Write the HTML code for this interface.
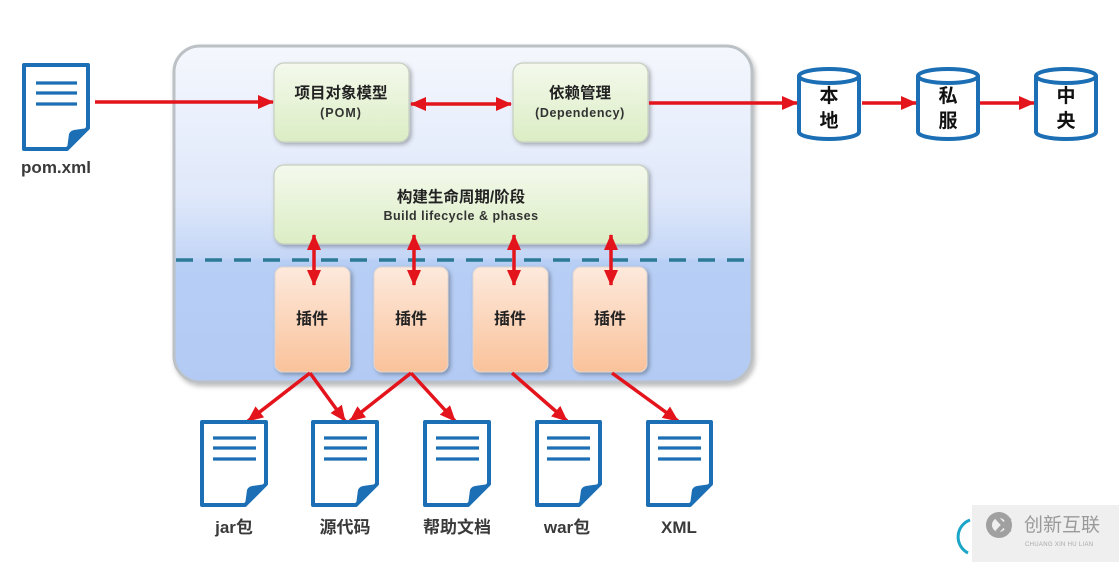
<!DOCTYPE html>
<html><head><meta charset="utf-8"><style>
html,body{margin:0;padding:0;background:#fff;}
svg{display:block;}
text{font-family:"Liberation Sans","Noto Sans CJK SC",sans-serif;}
</style></head><body>
<svg width="1119" height="562" viewBox="0 0 1119 562" xmlns="http://www.w3.org/2000/svg">
<defs>
<linearGradient id="cont" x1="0" y1="0" x2="0" y2="1">
<stop offset="0" stop-color="#f4f7fd"/>
<stop offset="0.45" stop-color="#dfe8fa"/>
<stop offset="0.63" stop-color="#c4d6f6"/>
<stop offset="0.64" stop-color="#b7cef5"/>
<stop offset="1" stop-color="#b3cbf4"/>
</linearGradient>
<linearGradient id="grn" x1="0" y1="0" x2="0" y2="1">
<stop offset="0" stop-color="#f4f9ec"/>
<stop offset="1" stop-color="#dbedc4"/>
</linearGradient>
<linearGradient id="org" x1="0" y1="0" x2="0" y2="1">
<stop offset="0" stop-color="#fde9dc"/>
<stop offset="1" stop-color="#f9c29a"/>
</linearGradient>
<filter id="sh" x="-10%" y="-10%" width="130%" height="130%">
<feDropShadow dx="2" dy="2" stdDeviation="2" flood-color="#000" flood-opacity="0.3"/>
</filter>
<filter id="sh2" x="-5%" y="-5%" width="115%" height="115%">
<feDropShadow dx="2" dy="3" stdDeviation="2.5" flood-color="#000" flood-opacity="0.25"/>
</filter>
<marker id="ah" markerUnits="userSpaceOnUse" markerWidth="16" markerHeight="14" refX="15" refY="7" orient="auto-start-reverse">
<path d="M0,0 L16,7 L0,14 z" fill="#e3141b"/>
</marker>
</defs>

<!-- container -->
<rect x="174" y="46" width="578" height="336" rx="26" fill="url(#cont)" stroke="#bcc1c6" stroke-width="3" filter="url(#sh2)"/>
<line x1="176" y1="260" x2="750" y2="260" stroke="#2d7a96" stroke-width="3.5" stroke-dasharray="17 12"/>

<!-- green boxes -->
<rect x="274" y="63" width="135" height="79" rx="10" fill="url(#grn)" stroke="#c6cec0" stroke-width="1.2" filter="url(#sh)"/>
<text x="341" y="98" text-anchor="middle" font-size="15.5" font-weight="bold" fill="#222">项目对象模型</text>
<text x="341" y="117" text-anchor="middle" font-size="12.5" font-weight="bold" fill="#333" letter-spacing="1">(POM)</text>

<rect x="513" y="63" width="135" height="79" rx="10" fill="url(#grn)" stroke="#c6cec0" stroke-width="1.2" filter="url(#sh)"/>
<text x="580" y="98" text-anchor="middle" font-size="15.5" font-weight="bold" fill="#222">依赖管理</text>
<text x="580" y="117" text-anchor="middle" font-size="12.5" font-weight="bold" fill="#333" letter-spacing="0.6">(Dependency)</text>

<rect x="274" y="165" width="374" height="79" rx="10" fill="url(#grn)" stroke="#c6cec0" stroke-width="1.2" filter="url(#sh)"/>
<text x="461" y="202" text-anchor="middle" font-size="15.5" font-weight="bold" fill="#222">构建生命周期/阶段</text>
<text x="461" y="220" text-anchor="middle" font-size="12.5" font-weight="bold" fill="#333" letter-spacing="0.5">Build lifecycle &amp; phases</text>

<!-- plugins -->
<g filter="url(#sh)">
<rect x="275" y="267" width="75" height="105" rx="8" fill="url(#org)" stroke="#e0d6d0" stroke-width="1"/>
<rect x="374" y="267" width="74" height="105" rx="8" fill="url(#org)" stroke="#e0d6d0" stroke-width="1"/>
<rect x="473" y="267" width="75" height="105" rx="8" fill="url(#org)" stroke="#e0d6d0" stroke-width="1"/>
<rect x="573" y="267" width="74" height="105" rx="8" fill="url(#org)" stroke="#e0d6d0" stroke-width="1"/>
</g>
<g font-size="16" font-weight="bold" fill="#222" text-anchor="middle">
<text x="312" y="324">插件</text>
<text x="411" y="324">插件</text>
<text x="510" y="324">插件</text>
<text x="610" y="324">插件</text>
</g>

<!-- arrows -->
<g stroke="#e3141b" stroke-width="3.5" fill="none">
<line x1="95" y1="102" x2="273" y2="102" marker-end="url(#ah)"/>
<line x1="411" y1="104" x2="511" y2="104" marker-start="url(#ah)" marker-end="url(#ah)"/>
<line x1="649" y1="103" x2="797" y2="103" marker-end="url(#ah)"/>
<line x1="862" y1="103" x2="916" y2="103" marker-end="url(#ah)"/>
<line x1="980" y1="103" x2="1034" y2="103" marker-end="url(#ah)"/>
<line x1="314" y1="235" x2="314" y2="285" marker-start="url(#ah)" marker-end="url(#ah)"/>
<line x1="414" y1="235" x2="414" y2="285" marker-start="url(#ah)" marker-end="url(#ah)"/>
<line x1="514" y1="235" x2="514" y2="285" marker-start="url(#ah)" marker-end="url(#ah)"/>
<line x1="611" y1="235" x2="611" y2="285" marker-start="url(#ah)" marker-end="url(#ah)"/>
<line x1="310" y1="373" x2="248" y2="421" marker-end="url(#ah)"/>
<line x1="310" y1="373" x2="345" y2="421" marker-end="url(#ah)"/>
<line x1="411" y1="373" x2="350" y2="421" marker-end="url(#ah)"/>
<line x1="411" y1="373" x2="455" y2="421" marker-end="url(#ah)"/>
<line x1="512" y1="373" x2="567" y2="421" marker-end="url(#ah)"/>
<line x1="612" y1="373" x2="678" y2="421" marker-end="url(#ah)"/>
</g>

<!-- documents -->
<g stroke="#1c6fb5" stroke-width="4" fill="#fff" stroke-linejoin="round">
<path d="M24,65 H88 V128 L67,149 H24 Z"/>
<path d="M202,422 H266 V484 L245,505 H202 Z"/>
<path d="M313,422 H377 V484 L356,505 H313 Z"/>
<path d="M425,422 H489 V484 L468,505 H425 Z"/>
<path d="M537,422 H600 V484 L579,505 H537 Z"/>
<path d="M648,422 H711 V484 L690,505 H648 Z"/>
</g>
<g fill="#1c6fb5">
<path d="M88,128 L67,149 L69,134 Q70,131 74,130 Z"/>
<path d="M266,484 L245,505 L247,490 Q248,487 252,486 Z"/>
<path d="M377,484 L356,505 L358,490 Q359,487 363,486 Z"/>
<path d="M489,484 L468,505 L470,490 Q471,487 475,486 Z"/>
<path d="M600,484 L579,505 L581,490 Q582,487 586,486 Z"/>
<path d="M711,484 L690,505 L692,490 Q693,487 697,486 Z"/>
</g>
<g stroke="#1c6fb5" stroke-width="3.2">
<path d="M36,83 H77 M36,93 H77 M36,104 H77"/>
<path d="M213,438 H256 M213,448 H256 M213,459 H256"/>
<path d="M324,438 H367 M324,448 H367 M324,459 H367"/>
<path d="M436,438 H479 M436,448 H479 M436,459 H479"/>
<path d="M547,438 H590 M547,448 H590 M547,459 H590"/>
<path d="M658,438 H701 M658,448 H701 M658,459 H701"/>
</g>

<g font-size="17" font-weight="bold" fill="#3a3a3a" text-anchor="middle">
<text x="56" y="173">pom.xml</text>
<text x="234" y="533">jar包</text>
<text x="345" y="533">源代码</text>
<text x="457" y="533">帮助文档</text>
<text x="567" y="533">war包</text>
<text x="679" y="533">XML</text>
</g>

<!-- cylinders -->
<g stroke="#1c6fb5" stroke-width="4" fill="#fff">
<path d="M799,76 V132 A30 7 0 0 0 859,132 V76"/>
<ellipse cx="829" cy="76" rx="30" ry="7"/>
<path d="M918,76 V132 A30 7 0 0 0 978,132 V76"/>
<ellipse cx="948" cy="76" rx="30" ry="7"/>
<path d="M1036,76 V132 A30 7 0 0 0 1096,132 V76"/>
<ellipse cx="1066" cy="76" rx="30" ry="7"/>
</g>
<g font-size="19" font-weight="bold" fill="#111" text-anchor="middle">
<text x="829" y="102">本</text>
<text x="829" y="127">地</text>
<text x="948" y="102">私</text>
<text x="948" y="127">服</text>
<text x="1066" y="102">中</text>
<text x="1066" y="127">央</text>
</g>

<!-- watermark -->
<rect x="972" y="505" width="147" height="57" fill="#efefef"/>
<path d="M970,520 A18 18 0 0 0 968,553" stroke="#1aa6c8" stroke-width="3" fill="none"/>
<circle cx="999" cy="525" r="13" fill="#a0a0a0"/>
<circle cx="999" cy="525" r="7" fill="#efefef"/>
<path d="M997,518 L1010,532 M1010,518 L997,532" stroke="#a0a0a0" stroke-width="4"/>
<text x="1024" y="531" font-size="19" fill="#9a9a9a">创新互联</text>
<text x="1025" y="546" font-size="6" fill="#a8a8a8" letter-spacing="0.3">CHUANG XIN HU LIAN</text>
</svg>
</body></html>
